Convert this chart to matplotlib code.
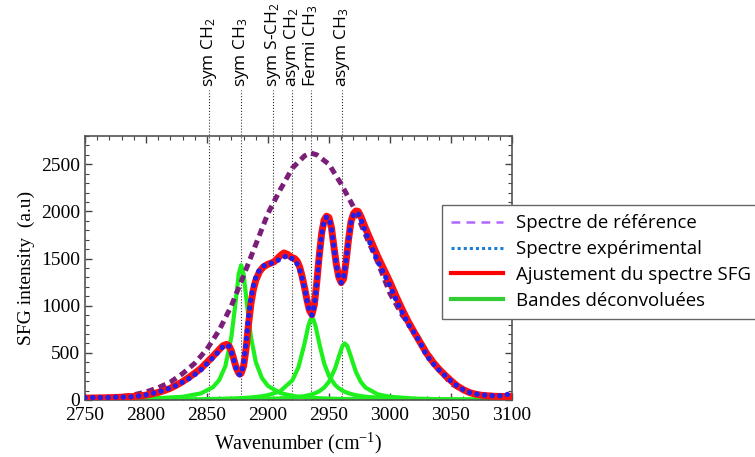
import numpy as np
import matplotlib.pyplot as plt
from matplotlib.lines import Line2D
from matplotlib.ticker import MultipleLocator

plt.rcParams['font.family'] = ['Liberation Serif', 'DejaVu Serif']
plt.rcParams['mathtext.fontset'] = 'custom'
plt.rcParams['mathtext.rm'] = 'Open Sans'

# spectre de reference (dashed purple)
ref_x = [2750, 2760, 2770, 2780, 2790, 2800, 2810, 2820, 2830, 2840, 2850, 2860, 2870, 2880,
         2890, 2900, 2910, 2920, 2930, 2935, 2940, 2950, 2960, 2970, 2980, 2990, 3000, 3010,
         3020, 3030, 3040, 3050, 3060, 3070, 3080, 3090, 3100]
ref_y = [20, 22, 25, 35, 55, 85, 130, 190, 280, 390, 540, 740, 1000, 1320,
         1650, 1980, 2230, 2460, 2590, 2620, 2600, 2500, 2290, 2050, 1750, 1460, 1130, 900,
         730, 510, 330, 175, 100, 60, 45, 35, 30]

# spectre experimental (blue dots) and fit (red)
exp_x = [2750, 2755, 2760, 2765, 2770, 2775, 2780, 2785, 2790, 2795, 2800, 2805, 2810, 2815,
         2820, 2825, 2830, 2835, 2840, 2845, 2850, 2855, 2860, 2863, 2866, 2868, 2870, 2872,
         2874, 2876, 2877, 2878, 2880, 2882, 2884, 2886, 2888, 2890, 2893, 2896, 2900, 2905,
         2910, 2913, 2916, 2919, 2922, 2924, 2926, 2928, 2930, 2932, 2934, 2936, 2938, 2940,
         2942, 2944, 2946, 2948, 2950, 2952, 2954, 2956, 2958, 2960, 2962, 2964, 2966, 2968,
         2970, 2972, 2974, 2976, 2980, 2985, 2990, 2995, 3000, 3005, 3010, 3015, 3020, 3025,
         3030, 3035, 3040, 3045, 3050, 3055, 3060, 3065, 3070, 3075, 3080, 3085, 3090, 3095, 3100]
exp_y = [25, 25, 28, 25, 28, 30, 30, 32, 35, 45, 55, 70, 85, 105,
         128, 155, 190, 225, 270, 320, 385, 450, 520, 565, 585, 570, 510, 420,
         330, 275, 265, 275, 380, 600, 880, 1080, 1210, 1300, 1380, 1420, 1440, 1460,
         1495, 1515, 1530, 1505, 1480, 1440, 1380, 1290, 1180, 1050, 940, 900, 1000, 1240,
         1520, 1760, 1900, 1940, 1930, 1820, 1620, 1430, 1300, 1245, 1290, 1480, 1700, 1880,
         1960, 1990, 1980, 1920, 1780, 1620, 1470, 1340, 1210, 1060, 930, 800, 710, 600,
         470, 390, 320, 260, 200, 150, 110, 80, 65, 55, 50, 45, 45, 55, 70]
fit_y = [20, 21, 22, 23, 25, 27, 30, 34, 38, 44, 52, 65, 80, 100,
         125, 158, 195, 238, 285, 335, 400, 465, 535, 575, 590, 575, 520, 430,
         340, 285, 275, 285, 360, 540, 800, 1020, 1170, 1270, 1360, 1410, 1440, 1465,
         1530, 1560, 1545, 1515, 1500, 1470, 1410, 1310, 1190, 1060, 950, 905, 1010, 1250,
         1530, 1770, 1910, 1950, 1935, 1830, 1630, 1440, 1305, 1245, 1285, 1470, 1700, 1890,
         1975, 2005, 2000, 1950, 1820, 1670, 1520, 1385, 1250, 1100, 960, 830, 715, 605,
         495, 405, 330, 265, 205, 150, 110, 80, 62, 50, 45, 40, 38, 38, 40]

# bandes deconvoluees (green)
band_x = [2750, 2800, 2830, 2845, 2855, 2860, 2865, 2870, 2873, 2876, 2878, 2880, 2883, 2886,
          2890, 2895, 2900, 2910, 2920, 2925, 2930, 2933, 2935, 2937, 2939, 2942, 2946, 2950,
          2955, 2958, 2961, 2963, 2965, 2968, 2972, 2976, 2980, 2990, 3000, 3020, 3050, 3100]
band_2878 = [5, 13, 34, 70, 137, 212, 357, 670, 990, 1335, 1430, 1335, 990, 670,
             402, 233, 149, 74, 44, 35, 29, 26, 24, 23, 21, 19, 17, 15,
             13, 12, 12, 11, 11, 10, 9, 8, 8, 6, 5, 4, 3, 2]
band_2936 = [2, 4, 6, 8, 11, 12, 14, 16, 17, 19, 20, 22, 24, 27,
             32, 40, 51, 93, 209, 349, 602, 783, 859, 859, 783, 602, 389, 254,
             159, 125, 100, 87, 76, 64, 51, 42, 35, 24, 17, 10, 5, 3]
band_2963 = [1, 2, 3, 3, 4, 5, 5, 6, 6, 6, 7, 7, 7, 8,
             9, 10, 12, 17, 25, 32, 42, 50, 56, 64, 74, 93, 131, 194,
             335, 458, 572, 600, 572, 458, 300, 194, 131, 60, 34, 15, 6, 3]

mode_pos = [2852, 2878, 2904, 2920, 2935, 2961]
mode_lab = ['sym CH$\\mathregular{_2}$', 'sym CH$\\mathregular{_3}$', 'sym S-CH$\\mathregular{_2}$',
            'asym CH$\\mathregular{_2}$', 'Fermi CH$\\mathregular{_3}$', 'asym CH$\\mathregular{_3}$']

sans = ['Open Sans', 'DejaVu Sans']

fig = plt.figure(figsize=(7.55, 4.57), dpi=100)
ax = fig.add_axes([85 / 755, 57 / 457, 427 / 755, 264 / 457])

for p, lab in zip(mode_pos, mode_lab):
    ax.plot([p, p], [0, 3290], ls=':', lw=0.8, color='#333333', clip_on=False, zorder=1)
    ax.text(p, 3320, lab, rotation=90, ha='center', va='bottom', fontsize=12.5,
            family=sans)

ax.plot(ref_x, ref_y, color='#7B1E7A', lw=3.6, ls=(0, (1.5, 1.0)), zorder=3)
for b in (band_2878, band_2936, band_2963):
    ax.plot(band_x, b, color='#1EF01E', lw=3, zorder=2)
ax.plot(exp_x, fit_y, color='#FF1010', lw=5, zorder=4)
ax.plot(exp_x, exp_y, color='#1F1FEE', lw=3.8, ls=(0, (0.05, 1.4)),
        dash_capstyle='round', zorder=5)

ax.set_xlim(2750, 3100)
ax.set_ylim(0, 2800)
ax.xaxis.set_major_locator(MultipleLocator(50))
ax.xaxis.set_minor_locator(MultipleLocator(10))
ax.yaxis.set_major_locator(MultipleLocator(500))
ax.yaxis.set_minor_locator(MultipleLocator(100))
ax.tick_params(which='both', direction='in', top=True, right=True, color='#444444',
               labelsize=14)
ax.tick_params(which='major', length=5, width=1)
ax.tick_params(which='minor', length=3, width=0.8)
ax.tick_params(axis='x', pad=5)
for s in ax.spines.values():
    s.set_color('#555555')
    s.set_linewidth(1.2)

ax.set_xlabel('Wavenumber (cm$\\mathregular{^{-1}}$)', fontsize=14.5, labelpad=5)
ax.set_ylabel('SFG intensity  (a.u)', fontsize=14, labelpad=4)

handles = [
    Line2D([], [], color='#B266FF', lw=1.8, ls=(0, (3.5, 2.5))),
    Line2D([], [], color='#1B7FD6', lw=2.2, ls=(0, (1, 1))),
    Line2D([], [], color='#FF0000', lw=3),
    Line2D([], [], color='#33CC33', lw=3),
]
labels = ['Spectre de référence', 'Spectre expérimental', 'Ajustement du spectre SFG',
          'Bandes déconvoluées']
fig.legend(handles, labels, loc='upper left', bbox_to_anchor=(442 / 755, 1 - 205 / 457),
           borderaxespad=0, prop={'family': sans, 'size': 13.4},
           fancybox=False, edgecolor='#666666', framealpha=1, handlelength=2.8,
           handletextpad=0.7, labelspacing=0.42, borderpad=0.5)

fig.savefig('out.png', dpi=100)
